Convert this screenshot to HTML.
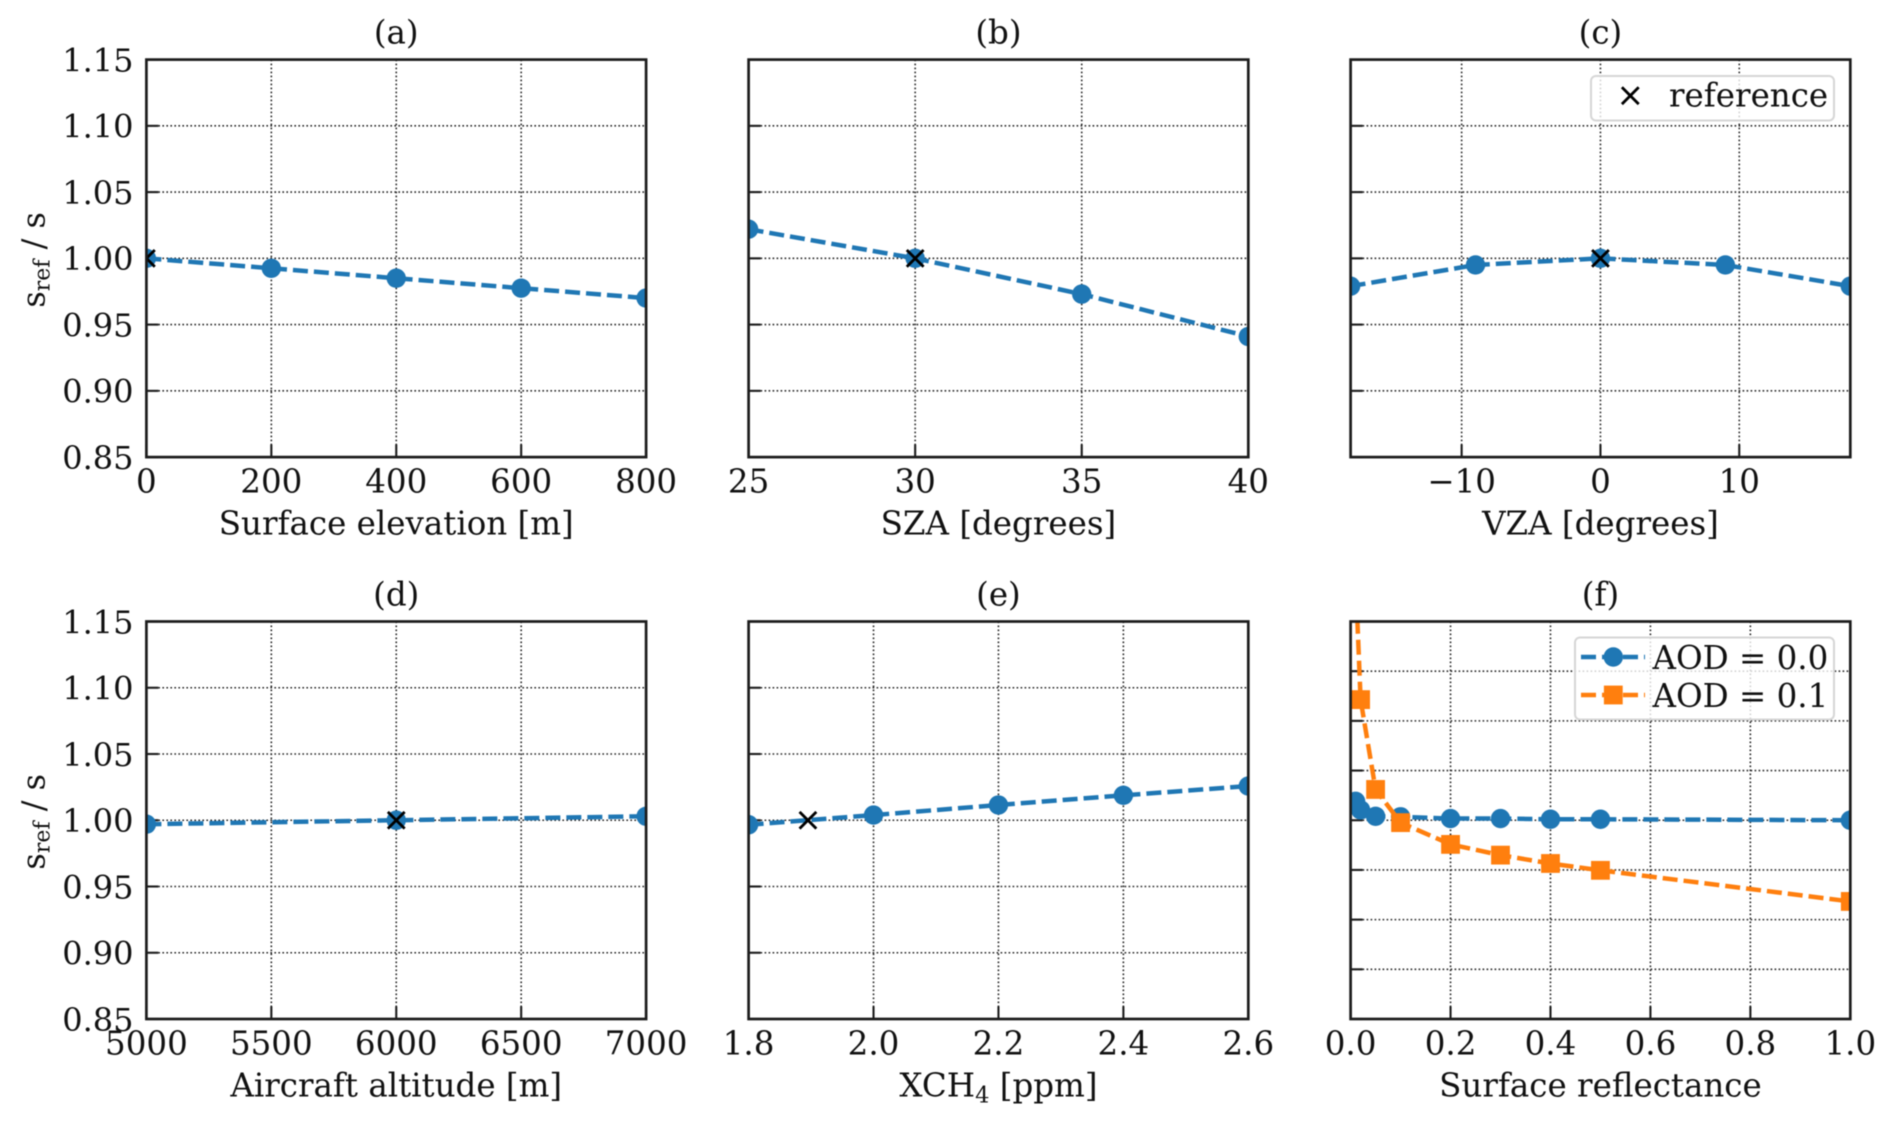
<!DOCTYPE html>
<html lang="en">
<head>
<meta charset="utf-8">
<title>Sensitivity of s_ref / s</title>
<style>
html,body{margin:0;padding:0;background:#fff;}
svg{display:block;filter:blur(0.55px);}
text{font-family:"DejaVu Serif","Liberation Serif",serif;font-size:32.5px;fill:#111;white-space:pre;}
</style>
</head>
<body>
<svg id="chart" xmlns="http://www.w3.org/2000/svg" width="1892" height="1122" viewBox="0 0 1892 1122"></svg>
<script>
// Panel data
const elevationX = [0, 200, 400, 600, 800];
const elevationY = [1.0, 0.9925, 0.985, 0.9775, 0.97];
const elevationRef = [0, 1.0];
const elevationTicks = [0, 200, 400, 600, 800];

const szaX = [25, 30, 35, 40];
const szaY = [1.022, 1.0, 0.973, 0.941];
const szaRef = [30, 1.0];
const szaTicks = [25, 30, 35, 40];

const vzaX = [-18, -9, 0, 9, 18];
const vzaY = [0.979, 0.995, 1.0, 0.995, 0.979];
const vzaRef = [0, 1.0];
const vzaTicks = [-10, 0, 10];
const vzaTickLabels = ['\u221210', '0', '10'];

const altitudeX = [5000, 6000, 7000];
const altitudeY = [0.997, 1.0, 1.003];
const altitudeRef = [6000, 1.0];
const altitudeTicks = [5000, 5500, 6000, 6500, 7000];

const xch4X = [1.8, 2.0, 2.2, 2.4, 2.6];
const xch4Y = [0.9966, 1.0039, 1.0115, 1.0188, 1.0258];
const xch4Ref = [1.895, 1.0];
const xch4Ticks = [1.8, 2.0, 2.2, 2.4, 2.6];
const xch4TickLabels = ['1.8', '2.0', '2.2', '2.4', '2.6'];

const reflectanceX = [0.01, 0.02, 0.05, 0.1, 0.2, 0.3, 0.4, 0.5, 1.0];
const aod00Y = [1.019, 1.0104, 1.004, 1.0035, 1.0017, 1.0017, 1.001, 1.001, 1.0];
const aod01Y = [1.245, 1.1214, 1.031, 0.9976, 0.9757, 0.9649, 0.9565, 0.9496, 0.9183];
const reflectanceTicks = [0, 0.2, 0.4, 0.6, 0.8, 1.0];
const reflectanceTickLabels = ['0.0', '0.2', '0.4', '0.6', '0.8', '1.0'];

const yTicks = [0.85, 0.9, 0.95, 1.0, 1.05, 1.1, 1.15];
const yTickLabels = ['0.85', '0.90', '0.95', '1.00', '1.05', '1.10', '1.15'];
const yTicksF = [0.8, 0.85, 0.9, 0.95, 1.0, 1.05, 1.1, 1.15, 1.2];

const BLUE = '#1f77b4', ORANGE = '#ff7f0e', INK = '#1c1c1c';
const NS = 'http://www.w3.org/2000/svg';
const svg = document.getElementById('chart');
const PW = 499.7, PH = 397.5;
const defs = document.createElementNS(NS, 'defs');
svg.appendChild(defs);

function make(parent, tag, attrs, txt) {
  const e = document.createElementNS(NS, tag);
  for (const k in attrs) e.setAttribute(k, attrs[k]);
  if (txt !== undefined) e.textContent = txt;
  parent.appendChild(e);
  return e;
}
function linePath(xs, ys, sx, sy) {
  return xs.map((v, i) => (i ? 'L' : 'M') + sx(v).toFixed(2) + ' ' + sy(ys[i]).toFixed(2)).join(' ');
}
function drawCross(parent, cx, cy, r, sw) {
  const el = make(parent, 'path', {
    d: `M${cx - r} ${cy - r}L${cx + r} ${cy + r}M${cx - r} ${cy + r}L${cx + r} ${cy - r}`,
    stroke: '#000', 'stroke-width': sw, fill: 'none'
  });
  
  
}
function drawSeries(parent, xs, ys, sx, sy, color, shape) {
  const el = make(parent, 'path', {
    d: linePath(xs, ys, sx, sy), fill: 'none', stroke: color,
    'stroke-width': 4.5, 'stroke-dasharray': '15 6'
  });
  
  
  xs.forEach((v, i) => {
    const cx = sx(v), cy = sy(ys[i]);
    let pt;
    if (shape === 'square') {
      pt = make(parent, 'rect', { x: cx - 9.4, y: cy - 9.4, width: 18.8, height: 18.8, fill: color });
    } else {
      pt = make(parent, 'circle', { cx: cx, cy: cy, r: 9.7, fill: color });
    }
    
    
  });
}

function drawPanel(p) {
  const g = make(svg, 'g', {});
  
  
  const sx = v => p.left + (v - p.xlim[0]) / (p.xlim[1] - p.xlim[0]) * PW;
  const sy = v => p.top + PH - (v - p.ylim[0]) / (p.ylim[1] - p.ylim[0]) * PH;
  const R = p.left + PW, B = p.top + PH;

  const clip = make(defs, 'clipPath', { id: 'clip-' + p.id });
  make(clip, 'rect', { x: p.left, y: p.top, width: PW, height: PH });

  // grid and ticks
  p.xticks.forEach(v => {
    const gl = make(g, 'line', { x1: sx(v), x2: sx(v), y1: p.top, y2: B, stroke: '#222', 'stroke-width': 1.6, 'stroke-dasharray': '1.6 2.4' });
    
    
    const tk = make(g, 'line', { x1: sx(v), x2: sx(v), y1: B, y2: B - 12.5, stroke: INK, 'stroke-width': 2.1 });
    
    
  });
  p.yticks.forEach(v => {
    const gl = make(g, 'line', { x1: p.left, x2: R, y1: sy(v), y2: sy(v), stroke: '#222', 'stroke-width': 1.6, 'stroke-dasharray': '1.6 2.4' });
    
    
    const tk = make(g, 'line', { x1: p.left, x2: p.left + 12, y1: sy(v), y2: sy(v), stroke: INK, 'stroke-width': 2.1 });
    
    
  });

  // data
  const plot = make(g, 'g', { 'clip-path': `url(#clip-${p.id})` });
  
  
  p.series.forEach(s => drawSeries(plot, p.x, s.y, sx, sy, s.color, s.shape));
  if (p.ref) drawCross(plot, sx(p.ref[0]), sy(p.ref[1]), 8.4, 2.8);

  // spines
  const frame = make(g, 'rect', { x: p.left, y: p.top, width: PW, height: PH, fill: 'none', stroke: INK, 'stroke-width': 2.7 });
  
  

  // tick labels
  p.xticks.forEach((v, i) => {
    const t = make(g, 'text', { x: sx(v), y: B + 35.5, 'text-anchor': 'middle' }, p.xlabels[i]);
    
    
  });
  if (p.showY) {
    p.yticks.forEach((v, i) => {
      const t = make(g, 'text', { x: 133.5, y: sy(v) + 11.8, 'text-anchor': 'end', style: 'font-size:32px' }, yTickLabels[i]);
      
      
    });
    const cy = p.top + PH / 2 + 1.5;
    const yl = make(g, 'text', { x: 44.5, y: cy, 'text-anchor': 'middle', transform: `rotate(-90 44.5 ${cy})`, style: 'font-size:32px' });
    
    
    make(yl, 'tspan', { style: 'font-size:32px' }, 's');
    make(yl, 'tspan', { style: 'font-size:22px', dy: 5 }, 'ref');
    make(yl, 'tspan', { style: 'font-size:32px', dy: -5 }, ' / s');
  }

  // title
  const ti = make(g, 'text', { x: p.left + PW / 2, y: p.top - 16, 'text-anchor': 'middle' }, p.title);
  
  

  // x-axis title
  const xl = make(g, 'text', { x: p.left + PW / 2, y: B + 77.5, 'text-anchor': 'middle' });
  
  
  if (p.xsub) {
    make(xl, 'tspan', {}, p.xtitle);
    make(xl, 'tspan', { style: 'font-size:22.5px', dy: 6 }, p.xsub);
    make(xl, 'tspan', { dy: -6 }, p.xtail);
  } else {
    xl.textContent = p.xtitle;
  }
  return g;
}

const LEFTS = [146.4, 748.6, 1350.6], TOPS = [59.6, 621.5];
const LIM = [0.85, 1.15];
const oneSeries = ys => [{ y: ys, color: BLUE, shape: 'circle' }];

drawPanel({ id: 'a', title: '(a)', left: LEFTS[0], top: TOPS[0], xlim: [0, 800], ylim: LIM, x: elevationX, series: oneSeries(elevationY), ref: elevationRef,
  xticks: elevationTicks, xlabels: elevationTicks.map(String), yticks: yTicks, showY: true, xtitle: 'Surface elevation [m]' });
drawPanel({ id: 'b', title: '(b)', left: LEFTS[1], top: TOPS[0], xlim: [25, 40], ylim: LIM, x: szaX, series: oneSeries(szaY), ref: szaRef,
  xticks: szaTicks, xlabels: szaTicks.map(String), yticks: yTicks, xtitle: 'SZA [degrees]' });
const panelC = drawPanel({ id: 'c', title: '(c)', left: LEFTS[2], top: TOPS[0], xlim: [-18, 18], ylim: LIM, x: vzaX, series: oneSeries(vzaY), ref: vzaRef,
  xticks: vzaTicks, xlabels: vzaTickLabels, yticks: yTicks, xtitle: 'VZA [degrees]' });
drawPanel({ id: 'd', title: '(d)', left: LEFTS[0], top: TOPS[1], xlim: [5000, 7000], ylim: LIM, x: altitudeX, series: oneSeries(altitudeY), ref: altitudeRef,
  xticks: altitudeTicks, xlabels: altitudeTicks.map(String), yticks: yTicks, showY: true, xtitle: 'Aircraft altitude [m]' });
drawPanel({ id: 'e', title: '(e)', left: LEFTS[1], top: TOPS[1], xlim: [1.8, 2.6], ylim: LIM, x: xch4X, series: oneSeries(xch4Y), ref: xch4Ref,
  xticks: xch4Ticks, xlabels: xch4TickLabels, yticks: yTicks, xtitle: 'XCH', xsub: '4', xtail: ' [ppm]' });
const panelF = drawPanel({ id: 'f', title: '(f)', left: LEFTS[2], top: TOPS[1], xlim: [0, 1], ylim: [0.8, 1.2], x: reflectanceX,
  series: [{ y: aod00Y, color: BLUE, shape: 'circle' }, { y: aod01Y, color: ORANGE, shape: 'square' }],
  xticks: reflectanceTicks, xlabels: reflectanceTickLabels, yticks: yTicksF, xtitle: 'Surface reflectance' });

// Legend, panel c
const legC = make(panelC, 'g', {});


const legCBox = make(legC, 'rect', { x: 1591, y: 76, width: 243, height: 44.5, rx: 5, fill: 'rgba(255,255,255,0.8)', stroke: '#d6d6d6', 'stroke-width': 2 });


drawCross(legC, 1630.3, 95.7, 8.4, 2.8);
const legCText = make(legC, 'text', { x: 1669, y: 106.4 }, 'reference');



// Legend, panel f
const legF = make(panelF, 'g', {});


const legFBox = make(legF, 'rect', { x: 1575, y: 637.5, width: 259, height: 82, rx: 5, fill: 'rgba(255,255,255,0.8)', stroke: '#d6d6d6', 'stroke-width': 2 });



const h1 = make(legF, 'line', { x1: 1581, x2: 1645, y1: 657, y2: 657, stroke: BLUE, 'stroke-width': 4.5, 'stroke-dasharray': '15 6' });


const c1 = make(legF, 'circle', { cx: 1613.3, cy: 657, r: 9.7, fill: BLUE });


const t1 = make(legF, 'text', { x: 1652.5, y: 668.8 }, 'AOD = 0.0');



const h2 = make(legF, 'line', { x1: 1581, x2: 1645, y1: 695, y2: 695, stroke: ORANGE, 'stroke-width': 4.5, 'stroke-dasharray': '15 6' });


const c2 = make(legF, 'rect', { x: 1603.9, y: 685.6, width: 18.8, height: 18.8, fill: ORANGE });


const t2 = make(legF, 'text', { x: 1652.5, y: 706.9 }, 'AOD = 0.1');


</script>
</body>
</html>
